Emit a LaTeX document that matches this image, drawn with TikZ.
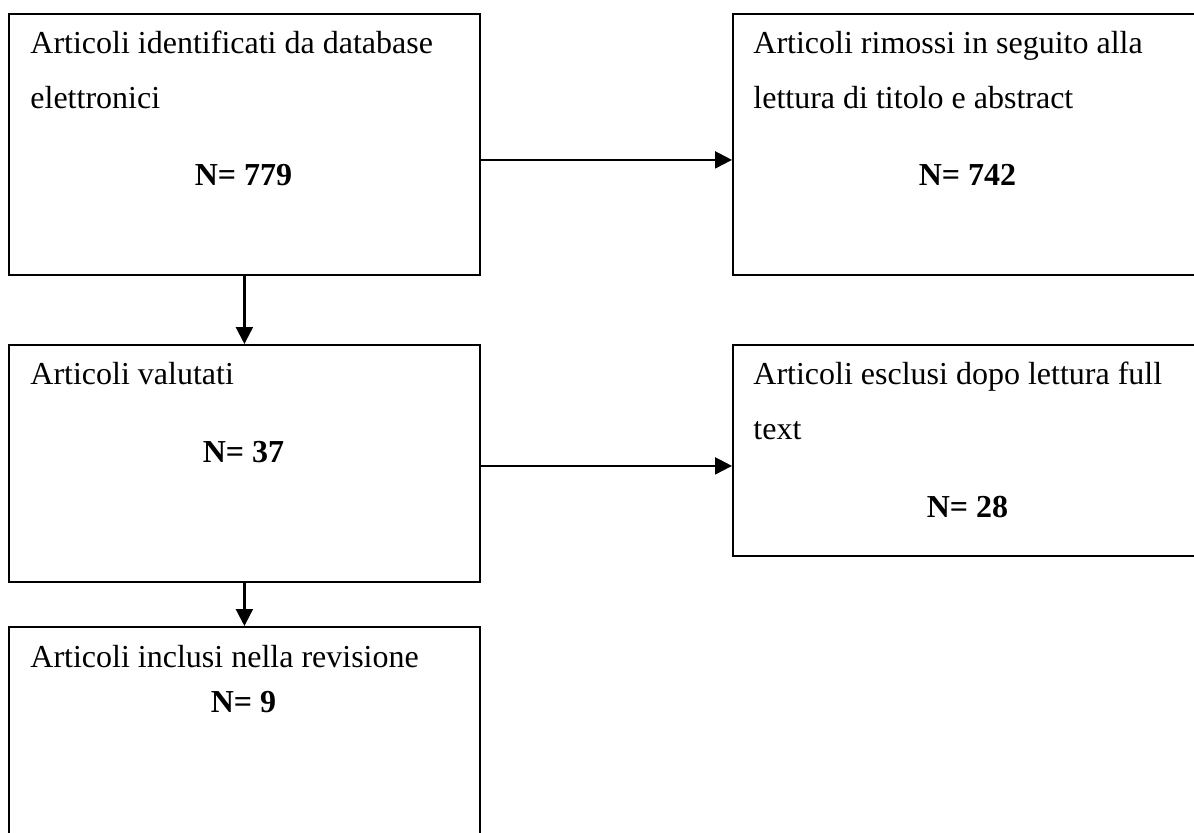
\documentclass[tikz,border=0pt]{standalone}
\usepackage{fontspec}
\setmainfont{Liberation Serif}
\usetikzlibrary{arrows.meta}
\tikzset{
    flow/.style={
        x=0.5pt, y=-0.5pt,
        box/.style={draw, line width=0.9pt, rectangle, anchor=north west,
            minimum width=235.5pt, inner sep=0pt},
        txt/.style={inner sep=0pt, anchor=base west, align=left,
            font=\fontsize{16}{27.5}\selectfont},
        num/.style={inner sep=0pt, anchor=base,
            font=\fontsize{16}{19}\selectfont\bfseries},
        arr/.style={-{Triangle[length=8.5pt, width=8.5pt]}, line width=1.1pt},
    },
}

\begin{document}
\begin{tikzpicture}[flow]
    \useasboundingbox (0,0) rectangle (1194,832);
    \clip (0,0) rectangle (1194,832);
    % boxes
    \node[box, minimum height=130.5pt] (ident)    at (8,13)    {};
    \node[box, minimum height=130.5pt] (rimossi)  at (732,13)  {};
    \node[box, minimum height=118.5pt] (valutati) at (8,344)   {};
    \node[box, minimum height=105.5pt] (esclusi)  at (732,344) {};
    \node[box, minimum height=130.5pt] (inclusi)  at (8,626)   {};
    % texts (base = last line)
    \node[txt] (identT)    at (30,108)  {Articoli identificati da database\\elettronici};
    \node[num] (identN)    at (243.5,185) {N= 779};
    \node[txt] (rimossiT)  at (753,108) {Articoli rimossi in seguito alla\\lettura di titolo e abstract};
    \node[num] (rimossiN)  at (967.5,185) {N= 742};
    \node[txt] (valutatiT) at (30,384)  {Articoli valutati};
    \node[num] (valutatiN) at (243.5,462) {N= 37};
    \node[txt] (esclusiT)  at (753,439) {Articoli esclusi dopo lettura full\\text};
    \node[num] (esclusiN)  at (967.5,517) {N= 28};
    \node[txt] (inclusiT)  at (30,667)  {Articoli inclusi nella revisione};
    \node[num] (inclusiN)  at (243.5,712) {N= 9};
    % arrows
    \draw[arr] (ident.south) -- (valutati.north);
    \draw[arr] (valutati.south) -- (inclusi.north);
    \draw[arr] ([yshift=-7.75pt]ident.east) -- ([yshift=-7.75pt]ident.east -| rimossi.west);
    \draw[arr] ([yshift=-1.25pt]valutati.east) -- ([yshift=-1.25pt]valutati.east -| esclusi.west);
\end{tikzpicture}
\end{document}
